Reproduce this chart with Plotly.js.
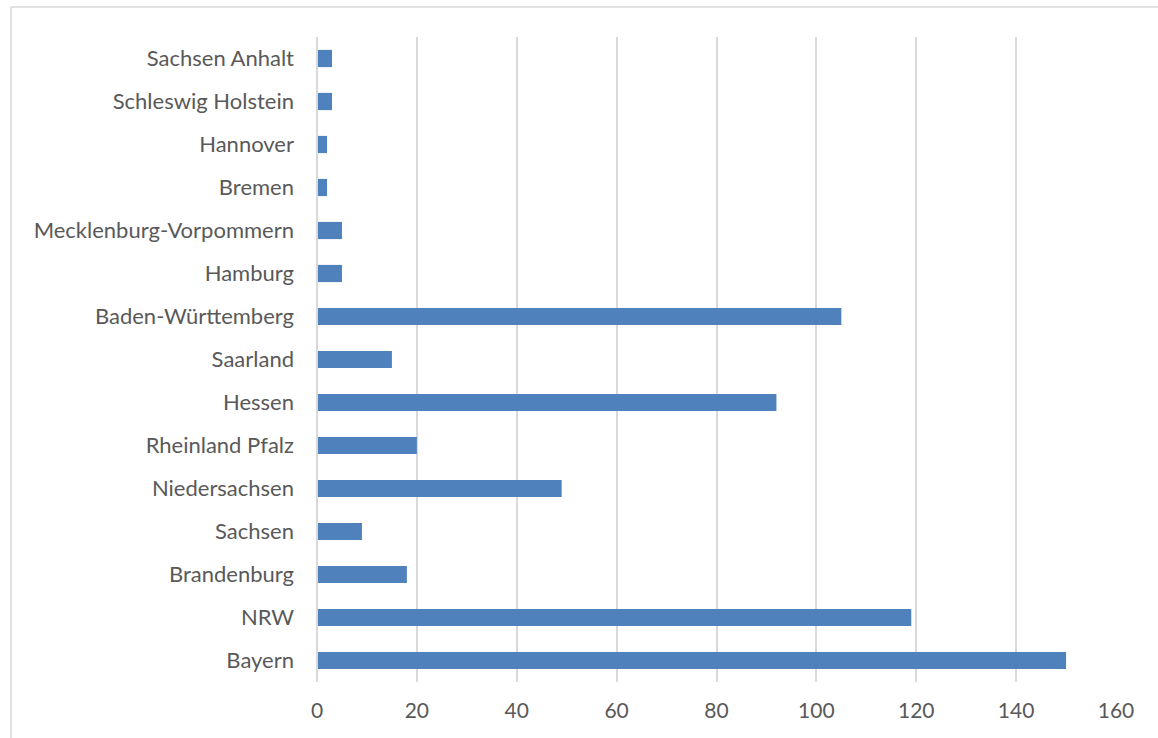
<!DOCTYPE html>
<html>
<head>
<meta charset="utf-8">
<script src="https://cdn.plot.ly/plotly-3.0.1.min.js"></script>
<style>html,body{margin:0;padding:0;background:#fff;}#chart{width:1158px;height:738px;}</style>
</head>
<body>
<div id="chart"></div>
<script>
const categories = ["Bayern","NRW","Brandenburg","Sachsen","Niedersachsen","Rheinland Pfalz","Hessen","Saarland","Baden-Württemberg","Hamburg","Mecklenburg-Vorpommern","Bremen","Hannover","Schleswig Holstein","Sachsen Anhalt"];
const values = [150,119,18,9,49,20,92,15,105,5,5,2,2,3,3];
const xTicks = [0,20,40,60,80,100,120,140,160];

const yFont = {family: "Lato, 'Open Sans', sans-serif", size: 22, color: "#595959"};
const xFont = {family: "Lato, 'Open Sans', sans-serif", size: 21, color: "#595959"};
const L = 317, R = 1116, T = 37, B = 682;
const pw = R - L, ph = B - T;

const trace = {
  type: "bar",
  orientation: "h",
  y: categories,
  x: values,
  marker: {color: "#4F81BD", line: {width: 0}},
  hoverinfo: "x+y"
};

const layout = {
  width: 1158, height: 738,
  margin: {l: L, r: 1158 - R, t: T, b: 738 - B, pad: 0},
  paper_bgcolor: "#fff", plot_bgcolor: "#fff",
  showlegend: false,
  bargap: 0.6,
  font: yFont,
  xaxis: {
    range: [0, 160], tickvals: xTicks, ticktext: xTicks.map(String),
    showgrid: true, gridcolor: "#D9D9D9", gridwidth: 2,
    zeroline: false, showline: false, ticks: "", tickfont: xFont, fixedrange: true,
    ticklabelstandoff: 14
  },
  yaxis: {
    type: "category", categoryorder: "array", categoryarray: categories,
    range: [-0.5, categories.length - 0.5],
    showgrid: false, zeroline: false, showline: false, ticks: "",
    ticklabelstandoff: 22, tickfont: yFont, fixedrange: true
  },
  shapes: [
    {type: "line", xref: "paper", yref: "paper", x0: 0, x1: 0, y0: 0, y1: 1, line: {color: "#D9D9D9", width: 2}},
    {type: "line", xref: "paper", yref: "paper", x0: (11 - L) / pw, x1: (1158 - L) / pw, y0: (B - 7) / ph, y1: (B - 7) / ph, line: {color: "#D9D9D9", width: 1.5}},
    {type: "line", xref: "paper", yref: "paper", x0: (11 - L) / pw, x1: (11 - L) / pw, y0: (B - 7) / ph, y1: (B - 740) / ph, line: {color: "#D9D9D9", width: 1.5}}
  ]
};

Plotly.newPlot("chart", [trace], layout, {displayModeBar: false, staticPlot: true});
</script>
</body>
</html>
